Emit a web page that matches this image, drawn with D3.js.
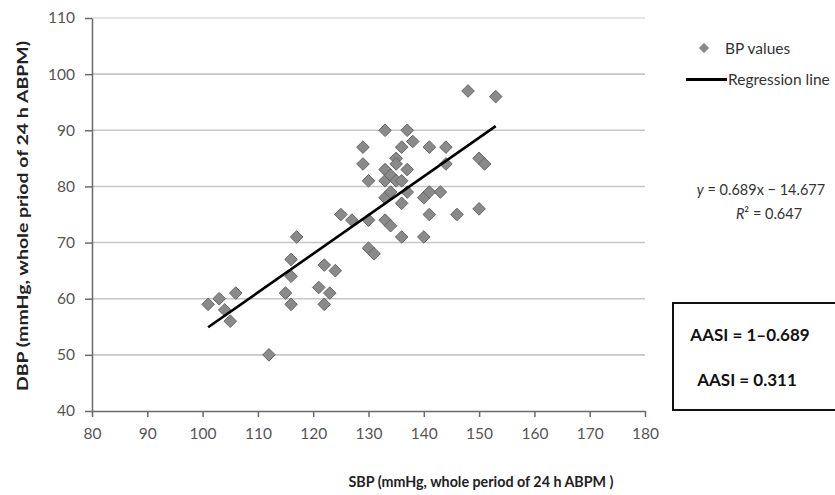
<!DOCTYPE html>
<html><head><meta charset="utf-8">
<script src="https://cdn.jsdelivr.net/npm/d3@7"></script>
<style>body{margin:0;background:#fff}svg{display:block}text{font-family:Lato,"Open Sans",sans-serif}</style>
</head><body><svg id="c" width="835" height="495"></svg>
<script>
const sbp = [101,103,104,105,106,112,115,116,116,116,117,121,122,122,123,124,125,127,129,129,130,130,130,131,133,133,133,133,134,133,134,134,135,135,135,136,136,136,136,137,137,137,138,140,140,141,141,141,143,144,144,146,148,150,151,150,153];
const dbp = [59,60,58,56,61,50,61,59,64,67,71,62,66,59,61,65,75,74,87,84,81,74,69,68,90,83,81,78,79,74,73,82,85,84,81,81,87,77,71,90,83,79,88,78,71,87,79,75,79,87,84,75,97,85,84,76,96];
const xTicks = [80,90,100,110,120,130,140,150,160,170,180];
const yTicks = [40,50,60,70,80,90,100,110];
const slope = 0.689, intercept = -14.677, r2 = 0.647;
const lineX = [101,153];

const svg = d3.select('#c');
const x = d3.scaleLinear().domain([80,180]).range([92,645]);
const y = d3.scaleLinear().domain([40,110]).range([411,18]);

// gridlines
svg.append('g').selectAll('line').data(yTicks.filter(t=>t>40)).join('line')
  .attr('x1',x(80)).attr('x2',x(180)).attr('y1',d=>y(d)).attr('y2',d=>y(d))
  .attr('stroke',d=>d===110?'#dcdcdc':'#c6c6c6').attr('stroke-width',1.6);

// axes
const gx = svg.append('g').attr('transform',`translate(0,${y(40)})`)
  .call(d3.axisBottom(x).tickValues(xTicks).tickSize(6).tickPadding(11).tickSizeOuter(0));
const gy = svg.append('g').attr('transform',`translate(${x(80)},0)`)
  .call(d3.axisLeft(y).tickValues(yTicks).tickSize(7).tickPadding(10).tickSizeOuter(0));
[gx,gy].forEach(g=>{
  g.select('.domain').attr('stroke','#6a6a6a').attr('stroke-width',1.5);
  g.selectAll('.tick line').attr('stroke','#6a6a6a').attr('stroke-width',1.5);
  g.selectAll('.tick text').attr('fill','#555').attr('font-size',15.5).attr('font-family','Lato,sans-serif');
});

// points
const pts = sbp.map((v,i)=>[v,dbp[i]]);
svg.append('g').selectAll('path').data(pts).join('path')
  .attr('d','M0,-6.3L6.3,0L0,6.3L-6.3,0Z')
  .attr('transform',d=>`translate(${x(d[0])},${y(d[1])})`)
  .attr('fill','#8a8a8a').attr('stroke','#666').attr('stroke-width',1);

// regression line
svg.append('line')
  .attr('x1',x(lineX[0])).attr('y1',y(slope*lineX[0]+intercept))
  .attr('x2',x(lineX[1])).attr('y2',y(slope*lineX[1]+intercept))
  .attr('stroke','#000').attr('stroke-width',2.6);

// axis titles
svg.append('text').attr('x',481).attr('y',487).attr('text-anchor','middle')
  .attr('font-size',16).attr('font-weight','bold').attr('fill','#222')
  .attr('textLength',265).attr('lengthAdjust','spacingAndGlyphs')
  .text('SBP (mmHg, whole period of 24 h ABPM )');
svg.append('text').attr('transform','translate(28,216) rotate(-90)').attr('text-anchor','middle')
  .attr('font-size',15).attr('font-weight','bold').attr('fill','#222')
  .attr('textLength',350).attr('lengthAdjust','spacingAndGlyphs')
  .text('DBP (mmHg, whole priod of 24 h ABPM)');

// legend
svg.append('path').attr('d','M0,-4.5L4.5,0L0,4.5L-4.5,0Z').attr('transform','translate(704,48)')
  .attr('fill','#8a8a8a').attr('stroke','#777');
svg.append('text').attr('x',725).attr('y',53.5).attr('font-size',15.5).attr('fill','#333').text('BP values');
svg.append('line').attr('x1',686).attr('x2',727).attr('y1',79.5).attr('y2',79.5).attr('stroke','#000').attr('stroke-width',3);
svg.append('text').attr('x',728).attr('y',85).attr('font-size',15.5).attr('fill','#333').text('Regression line');

// equation
const eq = svg.append('text').attr('x',761).attr('y',195).attr('text-anchor','middle').attr('font-size',14.5).attr('fill','#333');
eq.append('tspan').attr('font-style','italic').text('y');
eq.append('tspan').text(` = ${slope}x \u2212 ${Math.abs(intercept)}`);
const r = svg.append('text').attr('x',769).attr('y',219).attr('text-anchor','middle').attr('font-size',14.5).attr('fill','#333');
r.append('tspan').attr('font-style','italic').text('R');
r.append('tspan').text(`\u00B2 = ${r2}`);

// AASI box
svg.append('rect').attr('x',673).attr('y',303).attr('width',170).attr('height',107)
  .attr('fill','none').attr('stroke','#111').attr('stroke-width',2);
svg.append('text').attr('x',750).attr('y',341).attr('text-anchor','middle').attr('font-size',17).attr('font-weight','bold').attr('fill','#111')
  .text(`AASI = 1\u2013${slope}`);
svg.append('text').attr('x',747).attr('y',386).attr('text-anchor','middle').attr('font-size',17).attr('font-weight','bold').attr('fill','#111')
  .text(`AASI = ${(1-slope).toFixed(3)}`);
</script></body></html>
